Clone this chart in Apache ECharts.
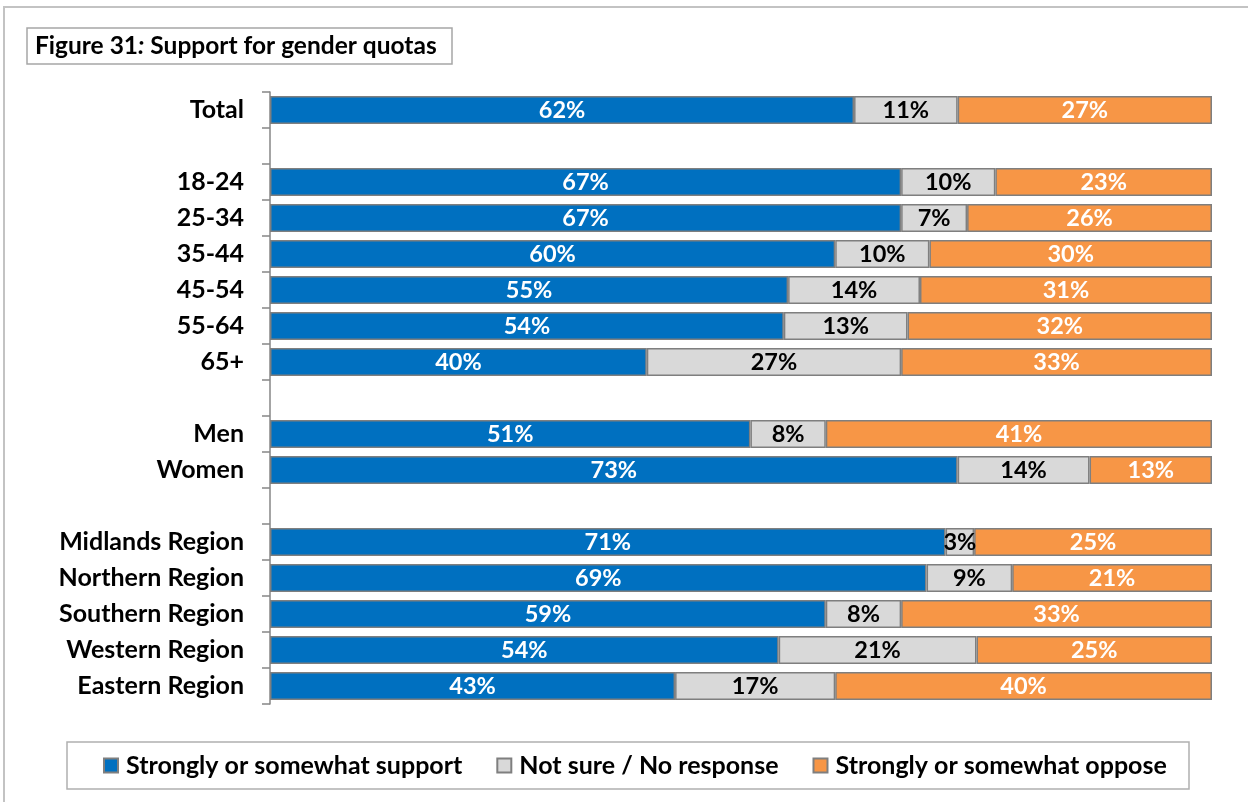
<!DOCTYPE html>
<html>
<head>
<meta charset="utf-8">
<title>Figure 31: Support for gender quotas</title>
<script src="https://cdn.jsdelivr.net/npm/echarts@6/dist/echarts.min.js"></script>
<style>
  html, body { margin: 0; padding: 0; background: #ffffff; }
  #chart { width: 1248px; height: 802px; }
</style>
</head>
<body>
<div id="chart"></div>
<script>
// Row labels (blank entries are spacer rows between groups)
const categories = [
  'Total', '',
  '18-24', '25-34', '35-44', '45-54', '55-64', '65+', '',
  'Men', 'Women', '',
  'Midlands Region', 'Northern Region', 'Southern Region', 'Western Region', 'Eastern Region'
];

// Percent of respondents per answer
const support = [62, null, 67, 67, 60, 55, 54, 40, null, 51, 73, null, 71, 69, 59, 54, 43];
const unsure  = [11, null, 10,  7, 10, 14, 13, 27, null,  8, 14, null,  3,  9,  8, 21, 17];
const oppose  = [27, null, 23, 26, 30, 31, 32, 33, null, 41, 13, null, 25, 21, 33, 25, 40];

const seriesNames = ['Strongly or somewhat support', 'Not sure / No response', 'Strongly or somewhat oppose'];
const seriesValues = [support, unsure, oppose];
const seriesColors = ['#0070C0', '#D9D9D9', '#F79646'];
const labelColors = ['#ffffff', '#000000', '#ffffff'];

const FONT = 'Lato, "Open Sans", sans-serif';

// Each row is drawn as a 100% stacked bar: shares are scaled by the row total
const rowTotals = categories.map((_, i) =>
  seriesValues.reduce((s, arr) => s + (arr[i] == null ? 0 : arr[i]), 0));

const series = seriesValues.map((vals, si) => ({
  name: seriesNames[si],
  type: 'bar',
  stack: 'all',
  barCategoryGap: '22%',
  data: vals.map((v, i) => v == null ? null : { value: v / rowTotals[i] * 100, raw: v }),
  itemStyle: { color: seriesColors[si], borderColor: '#7f7f7f', borderWidth: 1.5 },
  label: {
    show: true,
    position: 'inside',
    color: labelColors[si],
    fontFamily: FONT,
    fontWeight: 'bold',
    fontSize: 23.5,
    formatter: p => p.data && p.data.raw != null ? p.data.raw + '%' : ''
  },
  emphasis: { disabled: true }
}));

const chart = echarts.init(document.getElementById('chart'), null, { renderer: 'canvas' });

chart.setOption({
  animation: false,
  backgroundColor: '#ffffff',
  grid: { left: 270, right: 36, top: 92, bottom: 98, containLabel: false },
  xAxis: {
    type: 'value',
    min: 0,
    max: 100,
    show: false
  },
  yAxis: {
    type: 'category',
    inverse: true,
    data: categories,
    axisLine: { show: true, lineStyle: { color: '#868686', width: 1.5 } },
    axisTick: { show: true, length: 8, lineStyle: { color: '#868686', width: 1.5 } },
    axisLabel: {
      color: '#000000',
      fontFamily: FONT,
      fontWeight: 'bold',
      fontSize: 25,
      margin: 26
    },
    splitLine: { show: false }
  },
  legend: {
    data: seriesNames,
    left: 103,
    top: 753,
    padding: 0,
    itemWidth: 14,
    itemHeight: 14,
    itemGap: 34,
    icon: 'rect',
    textStyle: {
      color: '#000000', fontFamily: FONT, fontWeight: 'bold', fontSize: 25,
      padding: [0, 0, 0, 3]
    },
    selectedMode: false
  },
  graphic: [
    {
      type: 'rect',
      silent: true,
      z: -10,
      shape: { x: 4, y: 7, width: 1300, height: 900 },
      style: { fill: 'none', stroke: '#c3c3c3', lineWidth: 2 }
    },
    {
      type: 'rect',
      silent: true,
      shape: { x: 27, y: 28, width: 425, height: 36 },
      style: { fill: '#ffffff', stroke: '#a6a6a6', lineWidth: 1.5 }
    },
    {
      type: 'text',
      silent: true,
      x: 35,
      y: 46,
      style: {
        text: '{a|Figure 31}{b|:}{a| Support for gender quotas}',
        verticalAlign: 'middle',
        rich: {
          a: { fontFamily: FONT, fontWeight: 'bold', fontSize: 24.5, fill: '#000000' },
          b: { fontFamily: FONT, fontWeight: 'bold', fontStyle: 'italic', fontSize: 24.5, fill: '#000000' }
        }
      }
    },
    {
      type: 'rect',
      silent: true,
      shape: { x: 67, y: 742, width: 1122, height: 47 },
      style: { fill: '#ffffff', stroke: '#b0b0b0', lineWidth: 1.5 },
      z: -5
    }
  ],
  series: series
});
</script>
</body>
</html>
